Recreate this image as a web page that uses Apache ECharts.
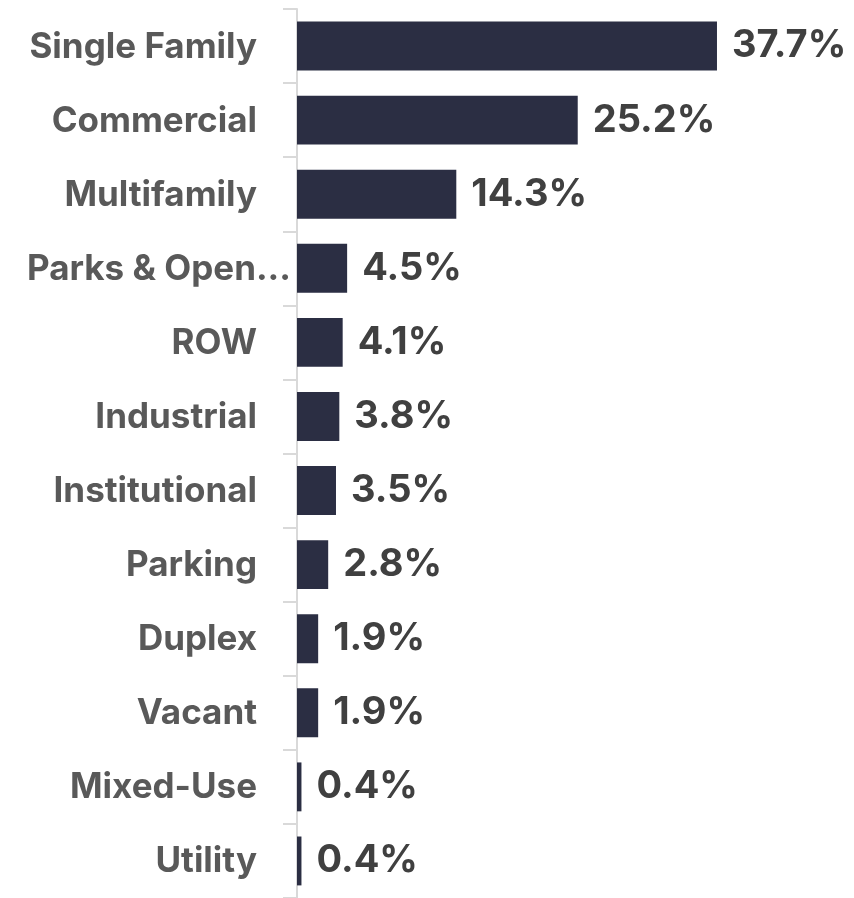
<!DOCTYPE html>
<html><head><meta charset="utf-8">
<script src="https://cdn.jsdelivr.net/npm/echarts@6/dist/echarts.min.js"></script>
<style>html,body{margin:0;padding:0;background:#fff}#c{width:854px;height:898px}</style>
</head><body><div id="c"></div>
<script>
const categories = ['Single Family','Commercial','Multifamily','Parks & Open...','ROW','Industrial','Institutional','Parking','Duplex','Vacant','Mixed-Use','Utility'];
const values = [37.7,25.2,14.3,4.5,4.1,3.8,3.5,2.8,1.9,1.9,0.4,0.4];

const FF = 'Inter', FS = 35, FW = 700, VS = 38;
const chart = echarts.init(document.getElementById('c'));
chart.setOption({
  animation:false,
  grid:{left:297, top:9, width:558.5, height:892, containLabel:false},
  xAxis:{type:'value', min:0, max:50, show:false},
  yAxis:{type:'category', data:categories, inverse:true,
    axisLine:{show:true, lineStyle:{color:'#d9d9d9', width:2}},
    axisTick:{show:true, length:14, lineStyle:{color:'#d9d9d9', width:2}},
    axisLabel:{margin:6, fontFamily:FF, fontWeight:FW, fontSize:FS, color:'#595959',
      formatter:function(v){ return v.indexOf('...')>=0 ? '{p|'+v+'}' : '{a|'+v+'}'; },
      rich:{a:{fontFamily:FF, fontWeight:FW, fontSize:FS, color:'#595959', padding:[2,34,0,0]},
            p:{fontFamily:FF, fontWeight:FW, fontSize:FS, color:'#595959', padding:[2,0,0,0]}}}
  },
  series:[{type:'bar', data:values, barCategoryGap:'34%', itemStyle:{color:'#2b2e43'},
    label:{show:true, position:'right', distance:15, formatter:p=>p.value.toFixed(1)+'%',
      fontFamily:FF, fontWeight:FW, fontSize:VS, color:'#404040', padding:[6,0,0,0]}}]
});
</script></body></html>
